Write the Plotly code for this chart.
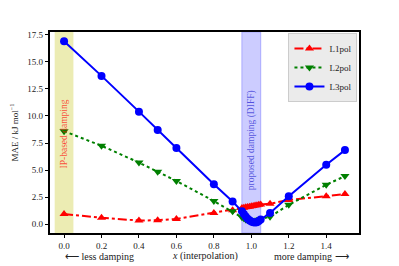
import plotly.graph_objects as go

x_vals = [0.0, 0.2, 0.4, 0.5, 0.6, 0.8, 0.9, 0.95, 0.96, 0.97, 0.98, 0.99, 1.0,
          1.01, 1.02, 1.03, 1.04, 1.05, 1.1, 1.2, 1.4, 1.5]
l1pol = [0.95, 0.6, 0.35, 0.38, 0.5, 1.05, 1.3, 1.5, 1.53, 1.57, 1.6, 1.63, 1.66,
         1.7, 1.73, 1.76, 1.8, 1.83, 1.9, 2.25, 2.6, 2.8]
l2pol = [8.6, 7.25, 5.7, 4.85, 4.0, 2.15, 1.2, 0.65, 0.55, 0.45, 0.38, 0.32, 0.28,
         0.27, 0.3, 0.35, 0.42, 0.5, 0.7, 1.8, 3.65, 4.45]
l3pol = [16.9, 13.7, 10.4, 8.7, 7.05, 3.7, 2.1, 1.2, 0.95, 0.72, 0.52, 0.38, 0.27,
         0.2, 0.17, 0.2, 0.3, 0.45, 1.05, 2.6, 5.5, 6.85]
series_names = ["L1pol", "L2pol", "L3pol"]
x_ticks = [0.0, 0.2, 0.4, 0.6, 0.8, 1.0, 1.2, 1.4]
y_ticks = [0.0, 2.5, 5.0, 7.5, 10.0, 12.5, 15.0, 17.5]

FONT = "Liberation Serif"

fig = go.Figure()
fig.add_trace(go.Scatter(x=x_vals, y=l1pol, name=series_names[0], mode="lines+markers",
                         line=dict(color="#ff0000", width=2, dash="dashdot"),
                         marker=dict(symbol="triangle-up", size=8, color="#ff0000")))
fig.add_trace(go.Scatter(x=x_vals, y=l2pol, name=series_names[1], mode="lines+markers",
                         line=dict(color="#008000", width=2, dash="dot"),
                         marker=dict(symbol="triangle-down", size=8, color="#008000")))
fig.add_trace(go.Scatter(x=x_vals, y=l3pol, name=series_names[2], mode="lines+markers",
                         line=dict(color="#0000ff", width=2),
                         marker=dict(symbol="circle", size=8, color="#0000ff")))

fig.add_vrect(x0=-0.05, x1=0.05, fillcolor="rgb(236,236,179)", line_width=0, layer="below")
fig.add_vrect(x0=0.95, x1=1.05, fillcolor="rgb(204,204,255)",
              line=dict(color="rgb(170,170,255)", width=1), layer="below")

fig.add_annotation(x=0.0, y=8.3, text="IP-based damping", textangle=-90, showarrow=False,
                   font=dict(family=FONT, size=9.5, color="rgba(255,0,0,0.7)"))
fig.add_annotation(x=1.0, y=7.8, text="proposed damping (DIFF)", textangle=-90, showarrow=False,
                   font=dict(family=FONT, size=9.5, color="rgba(0,0,200,0.6)"))

fig.add_annotation(x=0.16, y=-0.115, xref="paper", yref="paper", text="⟵ less damping",
                   xanchor="center", yanchor="middle",
                   showarrow=False, font=dict(family=FONT, size=10, color="#222"))
fig.add_annotation(x=0.5, y=-0.115, xref="paper", yref="paper", text="<i>x</i> (interpolation)",
                   xanchor="center", yanchor="middle",
                   showarrow=False, font=dict(family=FONT, size=10, color="#222"))
fig.add_annotation(x=0.845, y=-0.115, xref="paper", yref="paper", text="more damping ⟶",
                   xanchor="center", yanchor="middle",
                   showarrow=False, font=dict(family=FONT, size=10, color="#222"))

# page body has an 8px margin; compensate so the plot area lands where the reference has it
fig.update_layout(
    width=391, height=258,
    margin=dict(l=42, r=40, t=24, b=33),
    paper_bgcolor="white", plot_bgcolor="white",
    font=dict(family=FONT, size=9, color="#222"),
    showlegend=True,
    legend=dict(x=0.995, y=0.995, xanchor="right", yanchor="top",
                bgcolor="#ebebeb", bordercolor="#cccccc", borderwidth=1,
                font=dict(family=FONT, size=9), tracegroupgap=0, itemwidth=30),
    xaxis=dict(range=[-0.075, 1.575], tickvals=x_ticks, tickformat=".1f",
               showgrid=False, zeroline=False, showline=True, linecolor="black",
               linewidth=1.5, mirror=True, ticks="outside", ticklen=3.5,
               tickcolor="black", automargin=False),
    yaxis=dict(range=[-0.8, 17.75], tickvals=y_ticks, tickformat=".1f",
               showgrid=False, zeroline=False, showline=True, linecolor="black",
               linewidth=1.5, mirror=True, ticks="outside", ticklen=3.5,
               tickcolor="black", automargin=False,
               title=dict(text="MAE / kJ mol<sup>−1</sup>",
                          font=dict(family=FONT, size=9))),
)

fig.write_html("out.html")
